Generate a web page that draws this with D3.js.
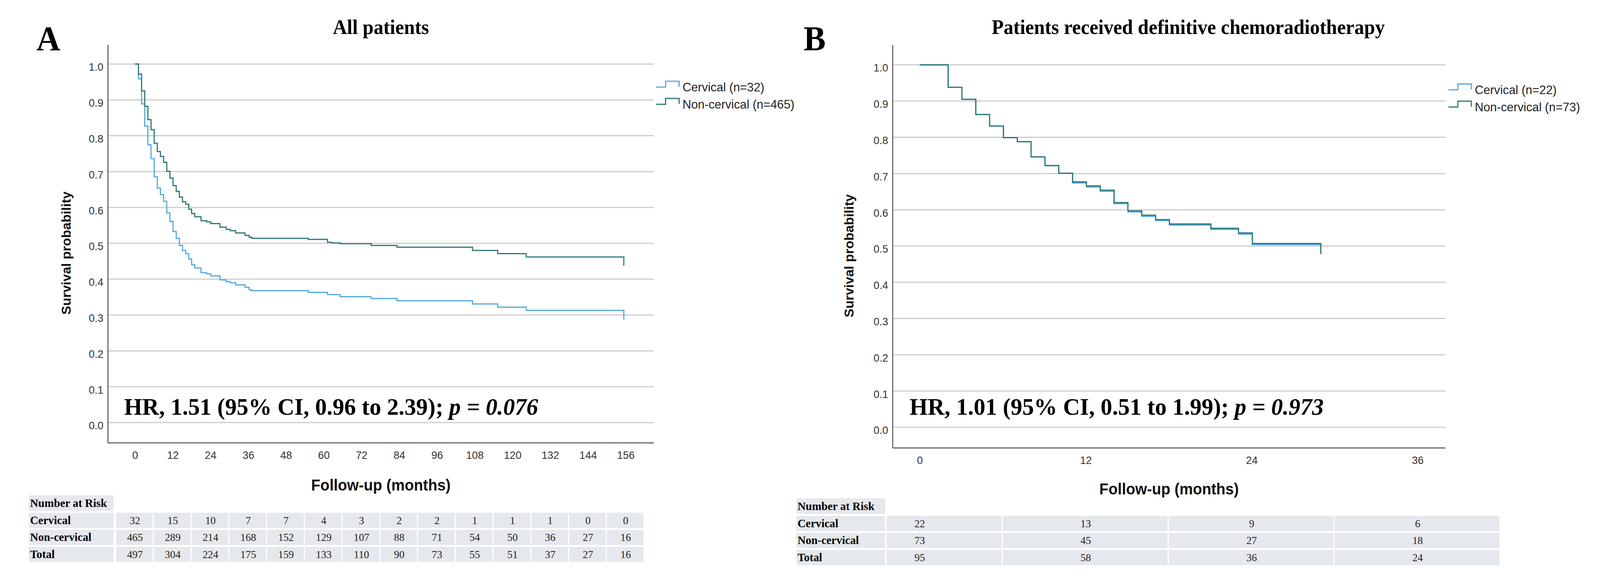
<!DOCTYPE html>
<html>
<head>
<meta charset="utf-8">
<script src="https://d3js.org/d3.v7.min.js"></script>
<style>
  body { margin: 0; background: #fff; overflow: hidden; }
  svg { display: block; }
  .serif { font-family: "Liberation Serif", "Times New Roman", serif; }
  .sans { font-family: "Liberation Sans", Arial, sans-serif; }
</style>
</head>
<body>
<!-- the photographed area is only ~4096px wide, so the 4255px layout is fitted into it -->
<svg id="km" width="4096" height="1480" viewBox="0 0 4255 1480" preserveAspectRatio="none"></svg>
<script>
// ---- data ----
// Panel A : all patients  [month, survival]
const allCervical = [[0,1.0],[1.1,0.959],[2.1,0.889],[3.1,0.827],[4.1,0.775],[5.1,0.736],[6.1,0.686],[7.1,0.654],
  [8.1,0.636],[9.1,0.617],[10.1,0.585],[11.1,0.561],[12.1,0.533],[13.1,0.514],[14.1,0.494],[15.1,0.480],[16.1,0.471],
  [17.1,0.456],[18.0,0.440],[19.0,0.431],[21.0,0.418],[22.8,0.415],[24.1,0.409],[27.0,0.398],[29.0,0.393],[30.3,0.390],
  [32.0,0.384],[35.0,0.377],[36.3,0.370],[37.2,0.368],[55.1,0.363],[61.2,0.357],[65.2,0.351],[75.1,0.346],[83.3,0.340],
  [107.3,0.331],[115.3,0.322],[124.4,0.313],[155.4,0.287]];
const allNonCervical = [[0,1.0],[1.1,0.972],[2.1,0.925],[3.1,0.882],[4.1,0.845],[5.1,0.817],[6.1,0.779],[7.1,0.756],
  [8.1,0.742],[9.1,0.726],[10.1,0.701],[11.1,0.682],[12.1,0.661],[13.1,0.645],[14.1,0.629],[15.1,0.616],[16.1,0.609],
  [17.1,0.595],[18.0,0.583],[19.0,0.574],[21.0,0.563],[22.8,0.560],[24.1,0.555],[27.0,0.545],[29.0,0.539],[30.3,0.535],
  [32.0,0.529],[35.0,0.522],[36.3,0.517],[37.2,0.514],[55.1,0.511],[61.2,0.503],[62.4,0.501],[65.2,0.499],[75.1,0.494],
  [83.3,0.489],[107.3,0.480],[115.3,0.471],[124.4,0.462],[155.4,0.438]];

// Panel B : definitive chemoradiotherapy
const crtCervical = [[0,1.0],[2.05,0.938],[3.05,0.905],[4.05,0.863],[5.05,0.831],[6.05,0.799],[7.05,0.788],[8.05,0.746],
  [9.05,0.722],[10.05,0.701],[11.05,0.674],[12.05,0.663],[13.05,0.651],[14.05,0.617],[15.05,0.594],[16.05,0.582],
  [17.05,0.570],[18.05,0.558],[21.05,0.546],[23.05,0.533],[24.05,0.504],[29.0,0.478]];
const crtNonCervical = [[0,1.0],[2.05,0.938],[3.05,0.905],[4.05,0.863],[5.05,0.831],[6.05,0.799],[7.05,0.788],[8.05,0.746],
  [9.05,0.722],[10.05,0.701],[11.05,0.677],[12.05,0.666],[13.05,0.654],[14.05,0.620],[15.05,0.597],[16.05,0.585],
  [17.05,0.573],[18.05,0.561],[21.05,0.549],[23.05,0.536],[24.05,0.507],[29.0,0.478]];

const yTicks = [0,0.1,0.2,0.3,0.4,0.5,0.6,0.7,0.8,0.9,1.0];
const xTicksA = [0,12,24,36,48,60,72,84,96,108,120,132,144,156];
const xTicksB = [0,12,24,36];

// number at risk
const riskRows = ["Cervical", "Non-cervical", "Total"];
const riskA = [
  [32,15,10,7,7,4,3,2,2,1,1,1,0,0],
  [465,289,214,168,152,129,107,88,71,54,50,36,27,16],
  [497,304,224,175,159,133,110,90,73,55,51,37,27,16]];
const riskB = [
  [22,13,9,6],
  [73,45,27,18],
  [95,58,36,24]];

const legendA = ["Cervical (n=32)", "Non-cervical (n=465)"];
const legendB = ["Cervical (n=22)", "Non-cervical (n=73)"];

const colBlue = "#4ea8e2", colTeal = "#2b7773";

const svg = d3.select("#km");

function drawPanel(p) {
  const g = svg.append("g");
  const x = d3.scaleLinear().domain([0, p.xMax]).range([p.x0, p.x1]);
  const y = d3.scaleLinear().domain([0, 1]).range([p.yZero, p.yOne]);

  // panel letter + title
  g.append("text").attr("class","serif").attr("x", p.letterX).attr("y", 128)
    .style("font-size","88px").style("font-weight","bold").text(p.letter);
  g.append("text").attr("class","serif").attr("x", p.titleX).attr("y", 87)
    .attr("text-anchor","middle").style("font-size","52px").style("font-weight","bold").text(p.title);

  // gridlines
  g.selectAll("line.grid").data(yTicks).join("line").attr("class","grid")
    .attr("x1", p.axisX).attr("x2", p.gridEnd)
    .attr("y1", d => y(d)).attr("y2", d => y(d))
    .style("stroke","#cdcdcd").style("stroke-width","3px");

  // axes lines
  g.append("line").attr("x1", p.axisX).attr("x2", p.axisX).attr("y1", 115).attr("y2", p.axisY)
    .style("stroke","#666").style("stroke-width","3px");
  g.append("line").attr("x1", p.axisX).attr("x2", p.gridEnd).attr("y1", p.axisY).attr("y2", p.axisY)
    .style("stroke","#666").style("stroke-width","3px");

  // tick labels
  const ya = g.append("g").attr("transform","translate("+p.axisX+",0)")
    .call(d3.axisLeft(y).tickValues(yTicks).tickFormat(d3.format(".1f")).tickSize(0).tickPadding(12));
  ya.select(".domain").remove();
  ya.selectAll("text").attr("class","sans").attr("dy","0.6em").style("font-size","28px").style("fill","#333");

  const xa = g.append("g").attr("transform","translate(0,"+p.axisY+")")
    .call(d3.axisBottom(x).tickValues(p.xTicks).tickSize(0).tickPadding(21));
  xa.select(".domain").remove();
  xa.selectAll("text").attr("class","sans").style("font-size","28px").style("fill","#333");

  // axis titles
  g.append("text").attr("class","sans")
    .attr("transform","translate("+p.yLabelX+","+p.yLabelY+") rotate(-90)")
    .attr("text-anchor","middle").style("font-size","34px").style("font-weight","bold").style("fill","#111")
    .text("Survival probability");
  g.append("text").attr("class","sans").attr("x", (p.axisX + p.gridEnd) / 2).attr("y", p.xLabelY)
    .attr("text-anchor","middle").style("font-size","40px").style("font-weight","bold").style("fill","#111")
    .text("Follow-up (months)");

  // survival curves
  const line = d3.line().x(d => x(d[0])).y(d => y(d[1])).curve(d3.curveStepAfter);
  g.append("path").datum(p.cervical).attr("d", line)
    .style("fill","none").style("stroke", colBlue).style("stroke-width","3px");
  g.append("path").datum(p.nonCervical).attr("d", line)
    .style("fill","none").style("stroke", colTeal).style("stroke-width","3px");

  // HR annotation
  const hr = g.append("text").attr("class","serif").attr("x", p.hrX).attr("y", 1062)
    .style("font-size","62px").style("font-weight","bold");
  hr.append("tspan").text(p.hr);
  hr.append("tspan").style("font-style","italic").text(p.pval);

  // legend
  const leg = g.append("g");
  p.legend.forEach((lab, i) => {
    const b = p.legY + i * 44, lx = p.legX;
    leg.append("path")
      .attr("d", `M${lx},${b-11}H${lx+25}V${b-26}H${lx+61}V${b-12}`)
      .style("fill","none").style("stroke", i === 0 ? colBlue : colTeal).style("stroke-width","3px");
    leg.append("text").attr("class","sans").attr("x", lx + 70).attr("y", b)
      .style("font-size","32px").style("fill","#222").text(lab);
  });

  // number at risk table
  const tb = g.append("g");
  const half = (x(p.xTicks[1]) - x(p.xTicks[0])) / 2;
  const cellFill = "#e5e8ec";
  tb.append("rect").attr("x", p.tabLeft).attr("y", p.tabTop)
    .attr("width", p.labRight - p.tabLeft).attr("height", 40).style("fill", cellFill);
  tb.append("text").attr("class","serif").attr("x", p.tabLeft + 3).attr("y", p.tabTop + 30)
    .style("font-size","30px").style("font-weight","bold").text("Number at Risk");
  riskRows.forEach((r, ri) => {
    const top = p.tabTop + 45 + ri * 43.5;
    tb.append("rect").attr("x", p.tabLeft).attr("y", top)
      .attr("width", p.labRight - p.tabLeft).attr("height", 39).style("fill", cellFill);
    tb.append("text").attr("class","serif").attr("x", p.tabLeft + 3).attr("y", top + 29)
      .style("font-size","30px").style("font-weight","bold").text(r);
    tb.selectAll("rect.c" + ri).data(p.risk[ri]).join("rect").attr("class","c" + ri)
      .attr("x", (d, i) => Math.max(x(p.xTicks[i]) - half, p.labRight + 4))
      .attr("width", (d, i) => x(p.xTicks[i]) + half - 3 - Math.max(x(p.xTicks[i]) - half, p.labRight + 4))
      .attr("y", top).attr("height", 39).style("fill", cellFill);
    tb.selectAll("text.c" + ri).data(p.risk[ri]).join("text").attr("class","serif c" + ri)
      .attr("x", (d, i) => x(p.xTicks[i])).attr("y", top + 29).attr("text-anchor","middle")
      .style("font-size","28px").style("fill","#222").text(d => d);
  });
}

drawPanel({
  letter: "A", letterX: 97, title: "All patients", titleX: 1013,
  xMax: 156, x0: 359, x1: 1664, yZero: 1082, yOne: 164, xTicks: xTicksA,
  axisX: 287, gridEnd: 1739, axisY: 1134,
  yLabelX: 188, yLabelY: 648, xLabelY: 1256,
  cervical: allCervical, nonCervical: allNonCervical,
  hrX: 330, hr: "HR, 1.51 (95% CI, 0.96 to 2.39); ", pval: "p = 0.076",
  legend: legendA, legX: 1745, legY: 234,
  risk: riskA, tabLeft: 77, labRight: 302, tabTop: 1268
});

drawPanel({
  letter: "B", letterX: 2137, title: "Patients received definitive chemoradiotherapy", titleX: 3160,
  xMax: 36, x0: 2446, x1: 3770, yZero: 1094, yOne: 166, xTicks: xTicksB,
  axisX: 2374, gridEnd: 3844, axisY: 1147,
  yLabelX: 2270, yLabelY: 655, xLabelY: 1266,
  cervical: crtCervical, nonCervical: crtNonCervical,
  hrX: 2419, hr: "HR, 1.01 (95% CI, 0.51 to 1.99); ", pval: "p = 0.973",
  legend: legendB, legX: 3852, legY: 241,
  risk: riskB, tabLeft: 2118, labRight: 2354, tabTop: 1276
});
</script>
</body>
</html>
